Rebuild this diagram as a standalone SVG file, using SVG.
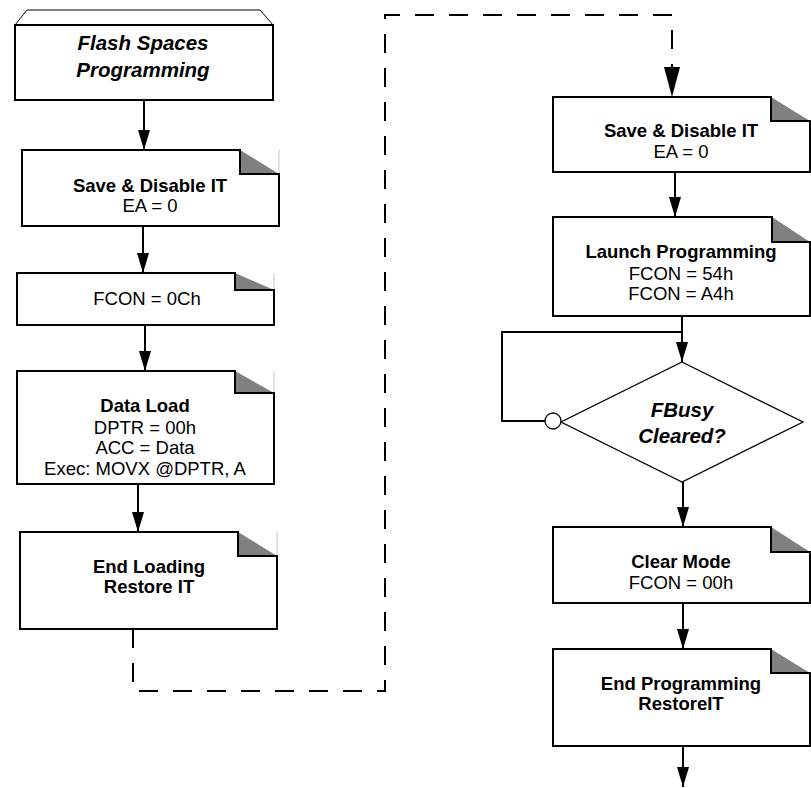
<svg xmlns="http://www.w3.org/2000/svg" width="811" height="788" viewBox="0 0 811 788">
<style>
.box{fill:#fff;stroke:#000;stroke-width:2}
.fold{fill:none;stroke:#000;stroke-width:2}
.tri{fill:#808080;stroke:none}
.ghost{stroke:#c8c8c8;stroke-width:1;fill:none}
.t{font-family:"Liberation Sans",Arial,sans-serif;font-size:18.5px;text-anchor:middle;fill:#000}
.b{font-weight:bold}
.bi{font-weight:bold;font-style:italic;font-size:20.5px}
.c{fill:none;stroke:#000;stroke-width:2}
.d{fill:none;stroke:#000;stroke-width:2;stroke-dasharray:19 15}
</style>
<defs>
<marker id="a" markerUnits="userSpaceOnUse" markerWidth="20" markerHeight="12" refX="20" refY="6" orient="auto" viewBox="0 0 20 12"><polygon points="0,0 20,6 0,12" fill="#000"/></marker>
<marker id="A" markerUnits="userSpaceOnUse" markerWidth="30" markerHeight="16" refX="30" refY="8" orient="auto" viewBox="0 0 30 16"><polygon points="0,0 30,8 0,16" fill="#000"/></marker>
</defs>
<g id="connectors">
<path class="c" d="M144,100 V150" marker-end="url(#a)"/>
<path class="c" d="M143,226 V273" marker-end="url(#a)"/>
<path class="c" d="M145,325 V371" marker-end="url(#a)"/>
<path class="c" d="M138,484 V532" marker-end="url(#a)"/>
<path class="d" d="M133,629 V691 H385 V15 H672 V97" marker-end="url(#A)"/>
<path class="c" d="M675,172 V217" marker-end="url(#a)"/>
<path class="c" d="M682,316 V362" marker-end="url(#a)"/>
<path class="c" d="M682,332 H502 V421 H545"/>
<circle cx="553" cy="421" r="8" fill="#fff" stroke="#000" stroke-width="1.3"/>
<path class="c" d="M683,482 V527" marker-end="url(#a)"/>
<path class="c" d="M683,603 V649" marker-end="url(#a)"/>
<path class="c" d="M683,746 V787" marker-end="url(#a)"/>
</g>
<g id="start">
<polygon points="15,25 27,10 260,10 273,25" fill="#fff" stroke="#000" stroke-width="1"/>
<rect class="box" x="15" y="25" width="258" height="75"/>
<text class="t bi" x="143" y="50">Flash Spaces</text>
<text class="t bi" x="143" y="77">Programming</text>
</g>
<g id="saveL">
<path class="box" d="M22,150 H240 V174 H279 V226 H22 Z"/>
<polygon class="tri" points="240,150 240,174 279,174"/>
<path class="fold" d="M240,150 V174 H279"/>
<line class="ghost" x1="279" y1="150" x2="279" y2="173"/>
<text class="t b" x="150" y="192">Save &amp; Disable IT</text>
<text class="t" x="150" y="212">EA = 0</text>
</g>
<g id="fcon">
<path class="box" d="M17,273 H235 V290 H274 V325 H17 Z"/>
<polygon class="tri" points="235,273 235,290 274,290"/>
<path class="fold" d="M235,273 V290 H274"/>
<line class="ghost" x1="274" y1="273" x2="274" y2="289"/>
<text class="t" x="147" y="305">FCON = 0Ch</text>
</g>
<g id="dataload">
<path class="box" d="M17,371 H235 V393 H274 V484 H17 Z"/>
<polygon class="tri" points="235,371 235,393 274,393"/>
<path class="fold" d="M235,371 V393 H274"/>
<line class="ghost" x1="274" y1="371" x2="274" y2="392"/>
<text class="t b" x="145" y="412">Data Load</text>
<text class="t" x="145" y="434">DPTR = 00h</text>
<text class="t" x="145" y="454">ACC = Data</text>
<text class="t" x="145" y="475">Exec: MOVX @DPTR, A</text>
</g>
<g id="endloading">
<path class="box" d="M20,532 H238 V556 H277 V629 H20 Z"/>
<polygon class="tri" points="238,532 238,556 277,556"/>
<path class="fold" d="M238,532 V556 H277"/>
<line class="ghost" x1="277" y1="532" x2="277" y2="555"/>
<text class="t b" x="149" y="573">End Loading</text>
<text class="t b" x="149" y="593">Restore IT</text>
</g>
<g id="saveR">
<path class="box" d="M553,97 H771 V121 H810 V172 H553 Z"/>
<polygon class="tri" points="771,97 771,121 810,121"/>
<path class="fold" d="M771,97 V121 H810"/>
<text class="t b" x="681" y="137">Save &amp; Disable IT</text>
<text class="t" x="681" y="158">EA = 0</text>
</g>
<g id="launch">
<path class="box" d="M553,217 H772 V242 H810 V316 H553 Z"/>
<polygon class="tri" points="772,217 772,242 810,242"/>
<path class="fold" d="M772,217 V242 H810"/>
<text class="t b" x="681" y="258">Launch Programming</text>
<text class="t" x="681" y="280">FCON = 54h</text>
<text class="t" x="681" y="300">FCON = A4h</text>
</g>
<g id="fbusy">
<polygon points="682,362 803,422 682,482 561,422" fill="#fff" stroke="#000" stroke-width="1.3"/>
<text class="t bi" x="682" y="417">FBusy</text>
<text class="t bi" x="682" y="443">Cleared?</text>
</g>
<g id="clearmode">
<path class="box" d="M553,527 H771 V552 H810 V603 H553 Z"/>
<polygon class="tri" points="771,527 771,552 810,552"/>
<path class="fold" d="M771,527 V552 H810"/>
<text class="t b" x="681" y="568">Clear Mode</text>
<text class="t" x="681" y="589">FCON = 00h</text>
</g>
<g id="endprog">
<path class="box" d="M553,649 H771 V673 H810 V746 H553 Z"/>
<polygon class="tri" points="771,649 771,673 810,673"/>
<path class="fold" d="M771,649 V673 H810"/>
<text class="t b" x="681" y="690">End Programming</text>
<text class="t b" x="681" y="710">RestoreIT</text>
</g>
</svg>
